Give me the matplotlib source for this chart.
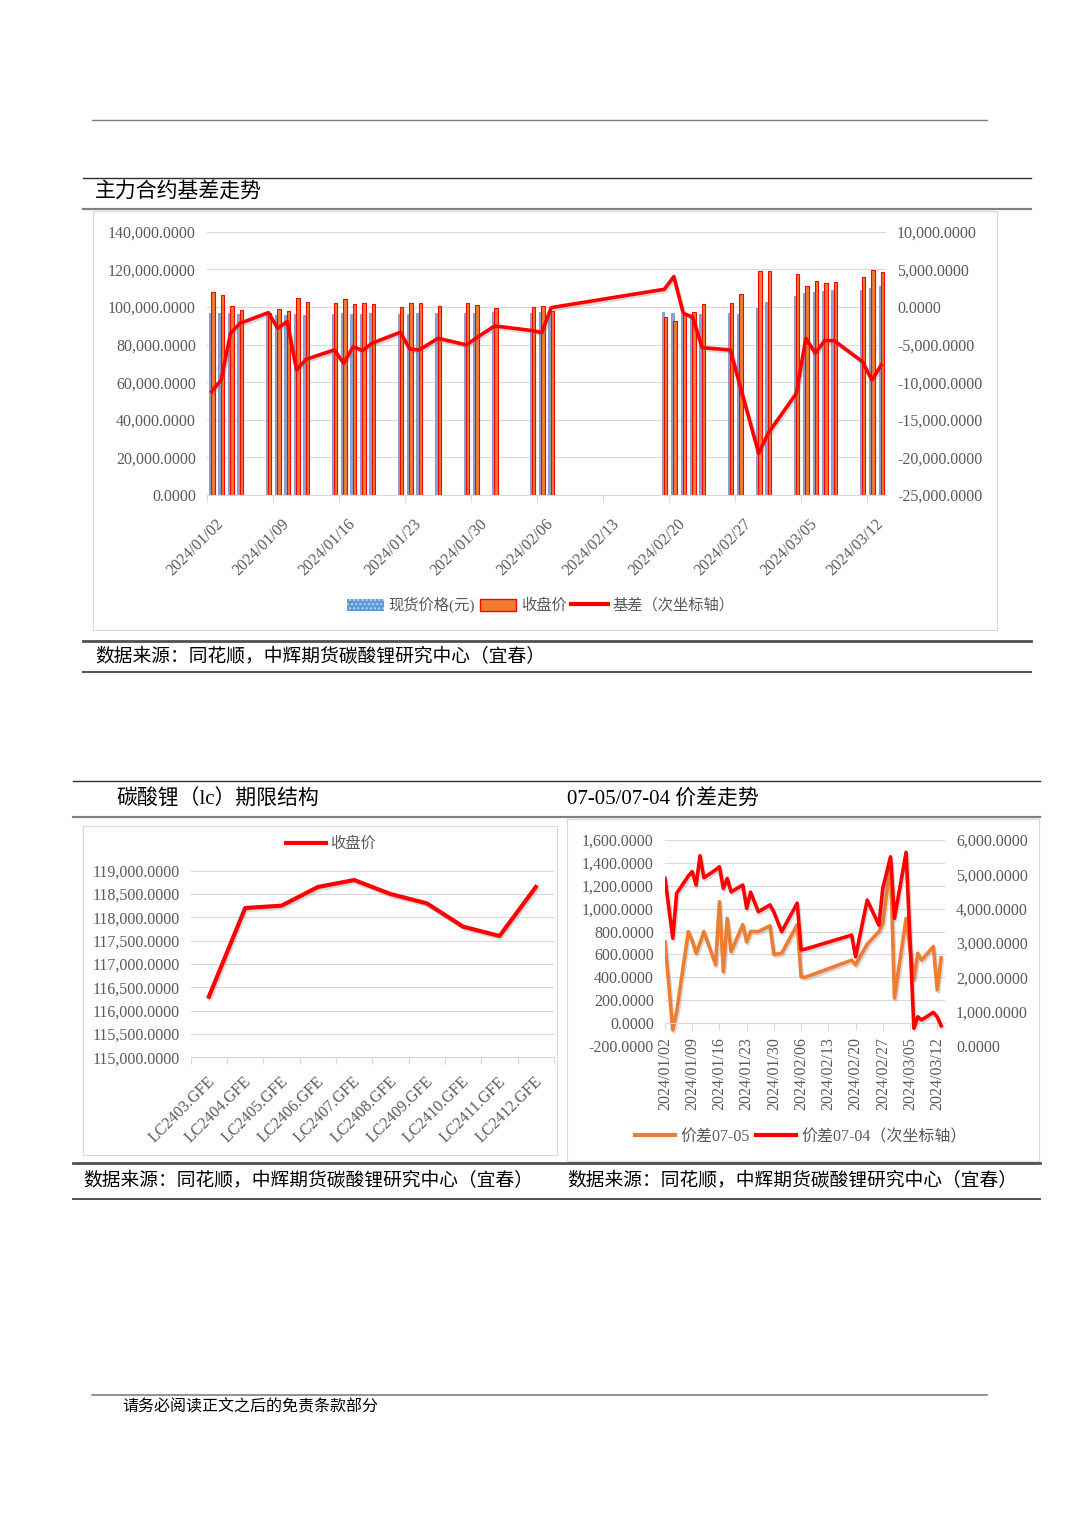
import matplotlib
matplotlib.use("Agg")
import matplotlib.pyplot as plt
import matplotlib.dates as mdates
import matplotlib.patheffects as pe
from matplotlib.lines import Line2D
from matplotlib.patches import Patch, Rectangle
from matplotlib.ticker import FuncFormatter, MultipleLocator
from matplotlib.transforms import blended_transform_factory, ScaledTranslation
import numpy as np
import pandas as pd

plt.rcParams["font.family"] = ["Liberation Serif", "Noto Sans CJK SC", "DejaVu Sans"]

# ---- 主力合约基差走势 ----
basis_dates = [
    "2024-01-02", "2024-01-03", "2024-01-04", "2024-01-05", "2024-01-08",
    "2024-01-09", "2024-01-10", "2024-01-11", "2024-01-12", "2024-01-15",
    "2024-01-16", "2024-01-17", "2024-01-18", "2024-01-19", "2024-01-22",
    "2024-01-23", "2024-01-24", "2024-01-26", "2024-01-29", "2024-01-30",
    "2024-02-01", "2024-02-05", "2024-02-06", "2024-02-07", "2024-02-19",
    "2024-02-20", "2024-02-21", "2024-02-22", "2024-02-23", "2024-02-26",
    "2024-02-27", "2024-02-29", "2024-03-01", "2024-03-04", "2024-03-05",
    "2024-03-06", "2024-03-07", "2024-03-08", "2024-03-11", "2024-03-12",
    "2024-03-13",
]
spot_price = [
    96840, 96690, 97000, 96230, 95890, 95920, 95950, 96220, 95840, 96230,
    96760, 96320, 96490, 96620, 96490, 96350, 96580, 96530, 96900, 96880,
    97120, 97000, 97140, 97910, 97200, 96730, 95810, 96130, 96190, 96580,
    96350, 99690, 102500, 106070, 107180, 107690, 108470, 108970, 108830,
    109990, 111090,
]
close_price = [
    108100, 106400, 100500, 98400, 96650, 98750, 97900, 104600, 102800, 101950,
    104250, 101600, 102300, 101450, 99850, 101950, 102300, 100700, 101950, 101050,
    99650, 100150, 100550, 98000, 94850, 92700, 96650, 97500, 101600, 102300,
    106750, 119150, 119300, 117550, 111350, 113850, 112950, 113450, 116100,
    119700, 118800,
]
basis = [
    -11260, -9710, -3500, -2170, -760, -2830, -1950, -8380, -6960, -5720,
    -7490, -5280, -5810, -4830, -3360, -5600, -5720, -4170, -5050, -4170,
    -2530, -3150, -3410, -90, 2350, 4030, -840, -1370, -5410, -5720,
    -10400, -19460, -16800, -11480, -4170, -6160, -4480, -4480, -7270,
    -9710, -7710,
]

# ---- 碳酸锂（lc）期限结构 ----
contracts = [
    "LC2403.GFE", "LC2404.GFE", "LC2405.GFE", "LC2406.GFE", "LC2407.GFE",
    "LC2408.GFE", "LC2409.GFE", "LC2410.GFE", "LC2411.GFE", "LC2412.GFE",
]
contract_close = [116300, 118200, 118250, 118650, 118800, 118500, 118300, 117800, 117600, 118650]

# ---- 07-05/07-04 价差走势 ----
spread_dates = [
    "2024-01-02", "2024-01-04", "2024-01-05", "2024-01-08", "2024-01-09",
    "2024-01-10", "2024-01-11", "2024-01-12", "2024-01-15", "2024-01-16",
    "2024-01-17", "2024-01-18", "2024-01-19", "2024-01-22", "2024-01-23",
    "2024-01-24", "2024-01-26", "2024-01-29", "2024-01-30", "2024-02-01",
    "2024-02-05", "2024-02-06", "2024-02-07", "2024-02-19", "2024-02-20",
    "2024-02-23", "2024-02-26", "2024-02-27", "2024-02-29", "2024-03-01",
    "2024-03-04", "2024-03-05", "2024-03-06", "2024-03-07", "2024-03-08",
    "2024-03-11", "2024-03-12", "2024-03-13",
]
spread_0705 = [
    710, -60, 100, 800, 720, 610, 700, 800, 510, 1060,
    450, 915, 625, 860, 710, 800, 800, 850, 600, 610,
    860, 405, 400, 550, 510, 690, 800, 870, 1400, 220,
    915, 650, 380, 610, 550, 670, 290, 570,
]
spread_0704 = [
    4880, 3140, 4450, 4950, 5080, 4690, 5540, 4900, 5130, 5220,
    4590, 4880, 4490, 4690, 4010, 4480, 3910, 4110, 3900, 3330,
    4160, 2800, 2820, 3230, 2600, 4250, 3520, 4590, 5510, 3720,
    5640, 3100, 515, 850, 760, 980, 850, 590,
]

SOURCE = "数据来源：同花顺，中辉期货碳酸锂研究中心（宜春）"
TICK_GREY = "#595959"
GRID = "#D9D9D9"
RED = "#FF0000"
ORANGE = "#ED7D31"

W, H = 1080, 1527
fig = plt.figure(figsize=(W / 100, H / 100), dpi=100)


def fx(px):
    return px / W


def fy(py):
    return 1 - py / H


def axes_at(x0, y0, x1, y1):
    return fig.add_axes([fx(x0), fy(y1), (x1 - x0) / W, (y1 - y0) / H])


def rule(y, x0, x1, color="#404040", lw=1.0):
    fig.add_artist(Line2D([fx(x0), fx(x1)], [fy(y), fy(y)], color=color, lw=lw))


def frame(x0, y0, x1, y1):
    fig.add_artist(Rectangle((fx(x0), fy(y1)), (x1 - x0) / W, (y1 - y0) / H,
                             fill=False, ec=GRID, lw=0.8))


def clean(ax):
    for s in ax.spines.values():
        s.set_visible(False)
    ax.tick_params(axis="y", length=0, labelsize=11.5, labelcolor=TICK_GREY, pad=8)


def slanted(ax, xs, labels, dx, dy, angle=45):
    # rotated category labels, shifted like the original
    tr = blended_transform_factory(ax.transData, ax.transAxes) + \
        ScaledTranslation(dx / 100, -dy / 100, fig.dpi_scale_trans)
    for xv, lab in zip(xs, labels):
        ax.text(xv, 0, lab, transform=tr, rotation=angle, rotation_mode="anchor",
                ha="right", va="center", fontsize=11.5, color=TICK_GREY)


fmt4 = FuncFormatter(lambda v, p: f"{v:,.4f}")
shadow = [pe.SimpleLineShadow(offset=(1, -1.5), shadow_color="#808080", alpha=0.3), pe.Normal()]

# page rules, titles, frames
rule(120, 92, 987, "#808080", 1.0)
rule(178, 83, 1031, "#303030", 1.0)
rule(208.5, 83, 1031, "#808080", 1.6)
rule(641, 83, 1031, "#505050", 2.0)
rule(671.5, 83, 1031, "#505050", 1.4)
rule(781, 73, 1040, "#303030", 1.0)
rule(817, 73, 1040, "#808080", 1.6)
rule(1163, 73, 1040, "#505050", 2.0)
rule(1199, 73, 1040, "#505050", 1.4)
rule(1394.5, 92, 987, "#808080", 1.2)
frame(93, 211, 997, 630)
frame(83, 826, 557, 1155)
frame(567, 819, 1039, 1161)

fig.text(fx(95), fy(193), "主力合约基差走势", fontsize=15, va="center")
fig.text(fx(95), fy(657), SOURCE, fontsize=13.5, va="center")
fig.text(fx(116), fy(800), "碳酸锂（lc）期限结构", fontsize=15, va="center")
fig.text(fx(567), fy(800), "07-05/07-04 价差走势", fontsize=15, va="center")
fig.text(fx(83), fy(1181), SOURCE, fontsize=13.5, va="center")
fig.text(fx(567), fy(1181), SOURCE, fontsize=13.5, va="center")
fig.text(fx(122), fy(1407), "请务必阅读正文之后的免责条款部分", fontsize=11.5, va="center")

start = mdates.date2num(pd.Timestamp("2024-01-02"))
week_ticks = pd.date_range("2024-01-02", "2024-03-12", freq="7D")
week_pos = mdates.date2num(week_ticks)
week_labels = [t.strftime("%Y/%m/%d") for t in week_ticks]

# ---- chart 1: spot / close bars + basis ----
ax1 = axes_at(207, 231.7, 886, 495)
d1 = mdates.date2num(pd.to_datetime(basis_dates))
ax1.bar(d1 + 0.36, spot_price, width=0.3, color="#8DA3D4", edgecolor="#6F87BF", lw=0.5)
ax1.bar(d1 + 0.64, close_price, width=0.36, color=ORANGE, edgecolor=RED, lw=0.8)
ax1.set_xlim(start, start + 72)
ax1.set_ylim(0, 140000)
ax1.yaxis.set_major_locator(MultipleLocator(20000))
ax1.yaxis.set_major_formatter(fmt4)
ax1.grid(axis="y", color=GRID, lw=0.8)
ax1.set_axisbelow(True)
clean(ax1)
ax1.spines["bottom"].set_visible(True)
ax1.spines["bottom"].set_color(GRID)
ax1.set_xticks(week_pos)
ax1.tick_params(axis="x", length=5, color=GRID, labelbottom=False)
slanted(ax1, week_pos, week_labels, dx=14, dy=27)

ax1r = ax1.twinx()
ax1r.plot(d1 + 0.5, basis, color=RED, lw=2.6, path_effects=shadow)
ax1r.set_ylim(-25000, 10000)
ax1r.yaxis.set_major_locator(MultipleLocator(5000))
ax1r.yaxis.set_major_formatter(fmt4)
clean(ax1r)

fig.legend(
    [Patch(facecolor="#5B9BD5", edgecolor="#BDD7EE", hatch="....", lw=0),
     Patch(facecolor=ORANGE, edgecolor=RED, lw=1),
     Line2D([], [], color=RED, lw=3)],
    ["现货价格(元)", "收盘价", "基差（次坐标轴）"],
    loc="center", bbox_to_anchor=(fx(541), fy(605)), ncol=3, frameon=False,
    fontsize=11, labelcolor=TICK_GREY, handlelength=2.4, handleheight=0.8,
    handletextpad=0.3, columnspacing=0.3,
)

# ---- chart 2: term structure ----
ax2 = axes_at(190.7, 870.7, 554, 1057.3)
xi = np.arange(len(contracts))
ax2.plot(xi, contract_close, color=RED, lw=3, path_effects=shadow)
ax2.set_xlim(-0.5, len(contracts) - 0.5)
ax2.set_ylim(115000, 119000)
ax2.yaxis.set_major_locator(MultipleLocator(500))
ax2.yaxis.set_major_formatter(fmt4)
ax2.grid(axis="y", color=GRID, lw=0.8)
ax2.set_axisbelow(True)
clean(ax2)
ax2.spines["bottom"].set_visible(True)
ax2.spines["bottom"].set_color(GRID)
ax2.set_xticks(np.arange(-0.5, len(contracts), 1))
ax2.tick_params(axis="x", length=5, color=GRID, labelbottom=False)
slanted(ax2, xi, contracts, dx=4, dy=22)

fig.legend([Line2D([], [], color=RED, lw=3)], ["收盘价"], loc="center",
           bbox_to_anchor=(fx(331), fy(844)), frameon=False, fontsize=11,
           labelcolor=TICK_GREY, handlelength=2.6, handletextpad=0.3)

# ---- chart 3: calendar spreads ----
ax3 = axes_at(665, 840, 945, 1046)
d3 = mdates.date2num(pd.to_datetime(spread_dates))
ax3.plot(d3, spread_0705, color=ORANGE, lw=2.6, path_effects=shadow)
ax3.set_xlim(start, start + 72)
ax3.set_ylim(-200, 1600)
ax3.yaxis.set_major_locator(MultipleLocator(200))
ax3.yaxis.set_major_formatter(fmt4)
ax3.grid(axis="y", color=GRID, lw=0.8)
ax3.set_axisbelow(True)
clean(ax3)
ax3.spines["bottom"].set_visible(True)
ax3.spines["bottom"].set_color(GRID)
ax3.spines["bottom"].set_position(("data", 0))
ax3.set_xticks(week_pos, labels=week_labels)
ax3.tick_params(axis="x", length=5, color=GRID, labelrotation=90, labelsize=11.5,
                labelcolor=TICK_GREY, pad=5)

ax3r = ax3.twinx()
ax3r.plot(d3, spread_0704, color=RED, lw=2.6, path_effects=shadow)
ax3r.set_ylim(0, 6000)
ax3r.yaxis.set_major_locator(MultipleLocator(1000))
ax3r.yaxis.set_major_formatter(fmt4)
clean(ax3r)

fig.legend(
    [Line2D([], [], color=ORANGE, lw=3), Line2D([], [], color=RED, lw=3)],
    ["价差07-05", "价差07-04（次坐标轴）"],
    loc="center", bbox_to_anchor=(fx(801), fy(1137)), ncol=2, frameon=False,
    fontsize=11.5, labelcolor=TICK_GREY, handlelength=2.5, handletextpad=0.35,
    columnspacing=0.35,
)

fig.savefig("out.png", dpi=100, facecolor="white")
